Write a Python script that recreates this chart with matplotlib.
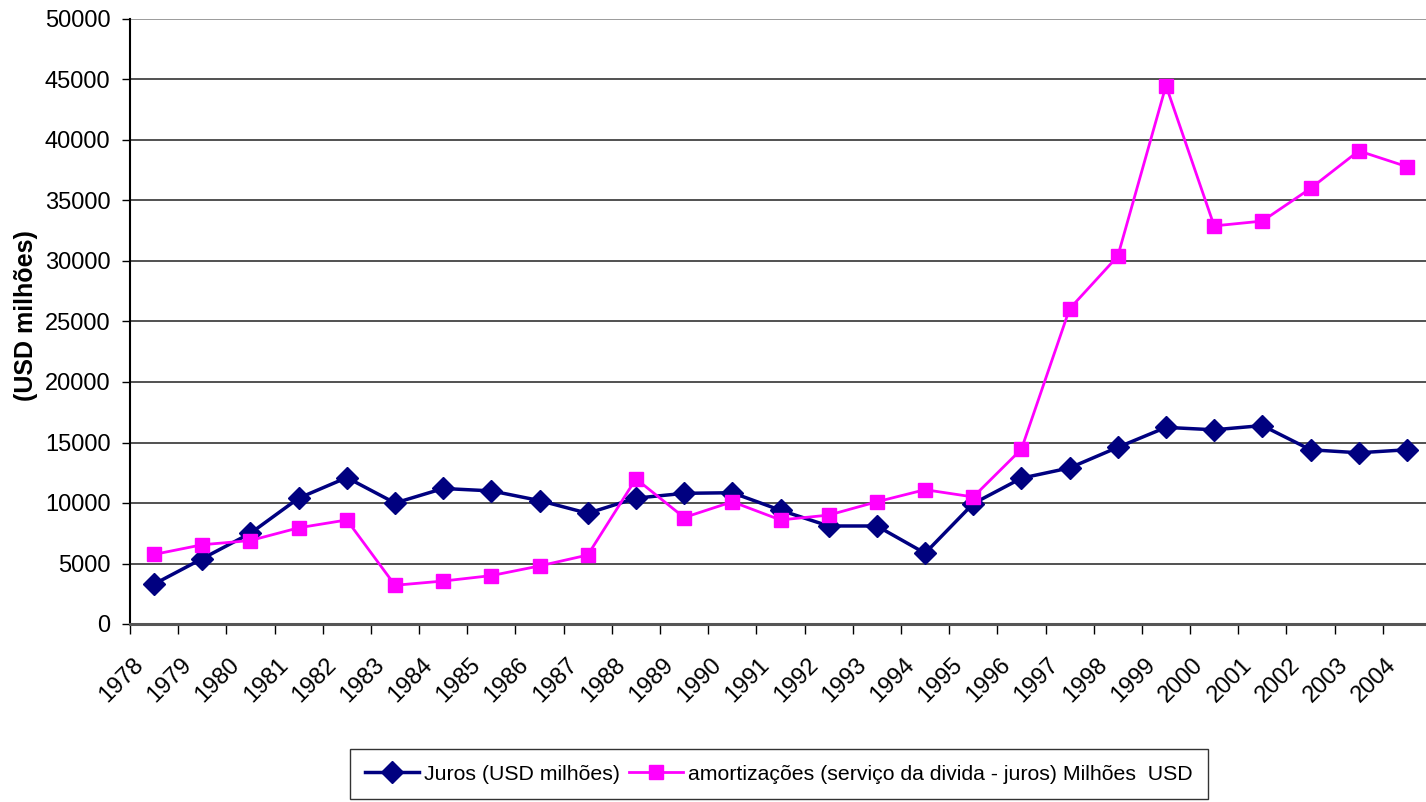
import matplotlib
matplotlib.use("Agg")
import matplotlib.pyplot as plt
from matplotlib.transforms import ScaledTranslation

years = [str(y) for y in range(1978, 2005)]
juros = [3300, 5400, 7500, 10400, 12100, 10000, 11200, 11000, 10200, 9150,
         10400, 10800, 10850, 9400, 8100, 8100, 5850, 9950, 12050, 12900,
         14600, 16250, 16050, 16400, 14400, 14150, 14400]
amort = [5750, 6550, 6900, 7950, 8600, 3200, 3550, 4000, 4800, 5700,
         12000, 8800, 10100, 8600, 9000, 10100, 11100, 10500, 14450, 26050,
         30400, 44500, 32900, 33300, 36000, 39100, 37800]
yticks = list(range(0, 50001, 5000))
label_juros = "Juros (USD milhões)"
label_amort = "amortizações (serviço da divida - juros) Milhões  USD"
ylabel = "(USD milhões)"

plt.rcParams['font.family'] = ['Liberation Sans', 'DejaVu Sans']

W, H = 1426, 802
fig = plt.figure(figsize=(W / 100, H / 100), dpi=100)
left, right, top, bottom = 130, 1431, 19, 624
ax = fig.add_axes([left / W, 1 - bottom / H, (right - left) / W, (bottom - top) / H])

x = list(range(len(years)))
ax.plot(x, juros, color='#000080', lw=2.5, marker='D', markersize=11,
        markeredgecolor='#000080', markerfacecolor='#000080', label=label_juros, zorder=3)
ax.plot(x, amort, color='#FF00FF', lw=2.0, marker='s', markersize=10.5,
        markeredgecolor='#FF00FF', markerfacecolor='#FF00FF', label=label_amort, zorder=3)

ax.set_xlim(-0.5, len(years) - 0.5)
ax.set_ylim(0, 50000)

# gridlines
for v in yticks[1:]:
    ax.axhline(v, color='#222222' if v < 50000 else '#808080', lw=1.1, zorder=1)

ax.set_yticks(yticks)
ax.set_yticklabels([str(v) for v in yticks], fontsize=17)
ax.tick_params(axis='y', direction='out', length=6, width=1, pad=8, color='black')

ax.set_xticks(x)
ax.set_xticklabels(years, fontsize=17, rotation=45, ha='right', va='center',
                   rotation_mode='anchor')
ax.tick_params(axis='x', which='major', length=0, pad=27)
ax.set_xticks([i - 0.5 for i in range(len(years) + 1)], minor=True)
ax.tick_params(axis='x', which='minor', direction='out', length=7, width=1, color='black')
offset = ScaledTranslation(-14 / 100, 0, fig.dpi_scale_trans)
for lab in ax.get_xticklabels():
    lab.set_transform(lab.get_transform() + offset)

for s in ['top', 'right']:
    ax.spines[s].set_visible(False)
ax.spines['left'].set_color('black')
ax.spines['left'].set_linewidth(1.5)
ax.spines['bottom'].set_color('#555555')
ax.spines['bottom'].set_linewidth(2.2)

fig.text(26 / W, 1 - 316 / H, ylabel, rotation=90, fontsize=18, fontweight='bold',
         ha='center', va='center')

leg = fig.legend(loc='center', bbox_to_anchor=(779 / W, 1 - 774 / H), ncol=2,
                 fontsize=15.3, frameon=True, fancybox=False, handlelength=2.5,
                 handletextpad=0.25, columnspacing=0.45, borderpad=0.75,
                 borderaxespad=0)
leg.get_frame().set_edgecolor('black')
leg.get_frame().set_linewidth(1.0)

fig.savefig("out.png", dpi=100)
